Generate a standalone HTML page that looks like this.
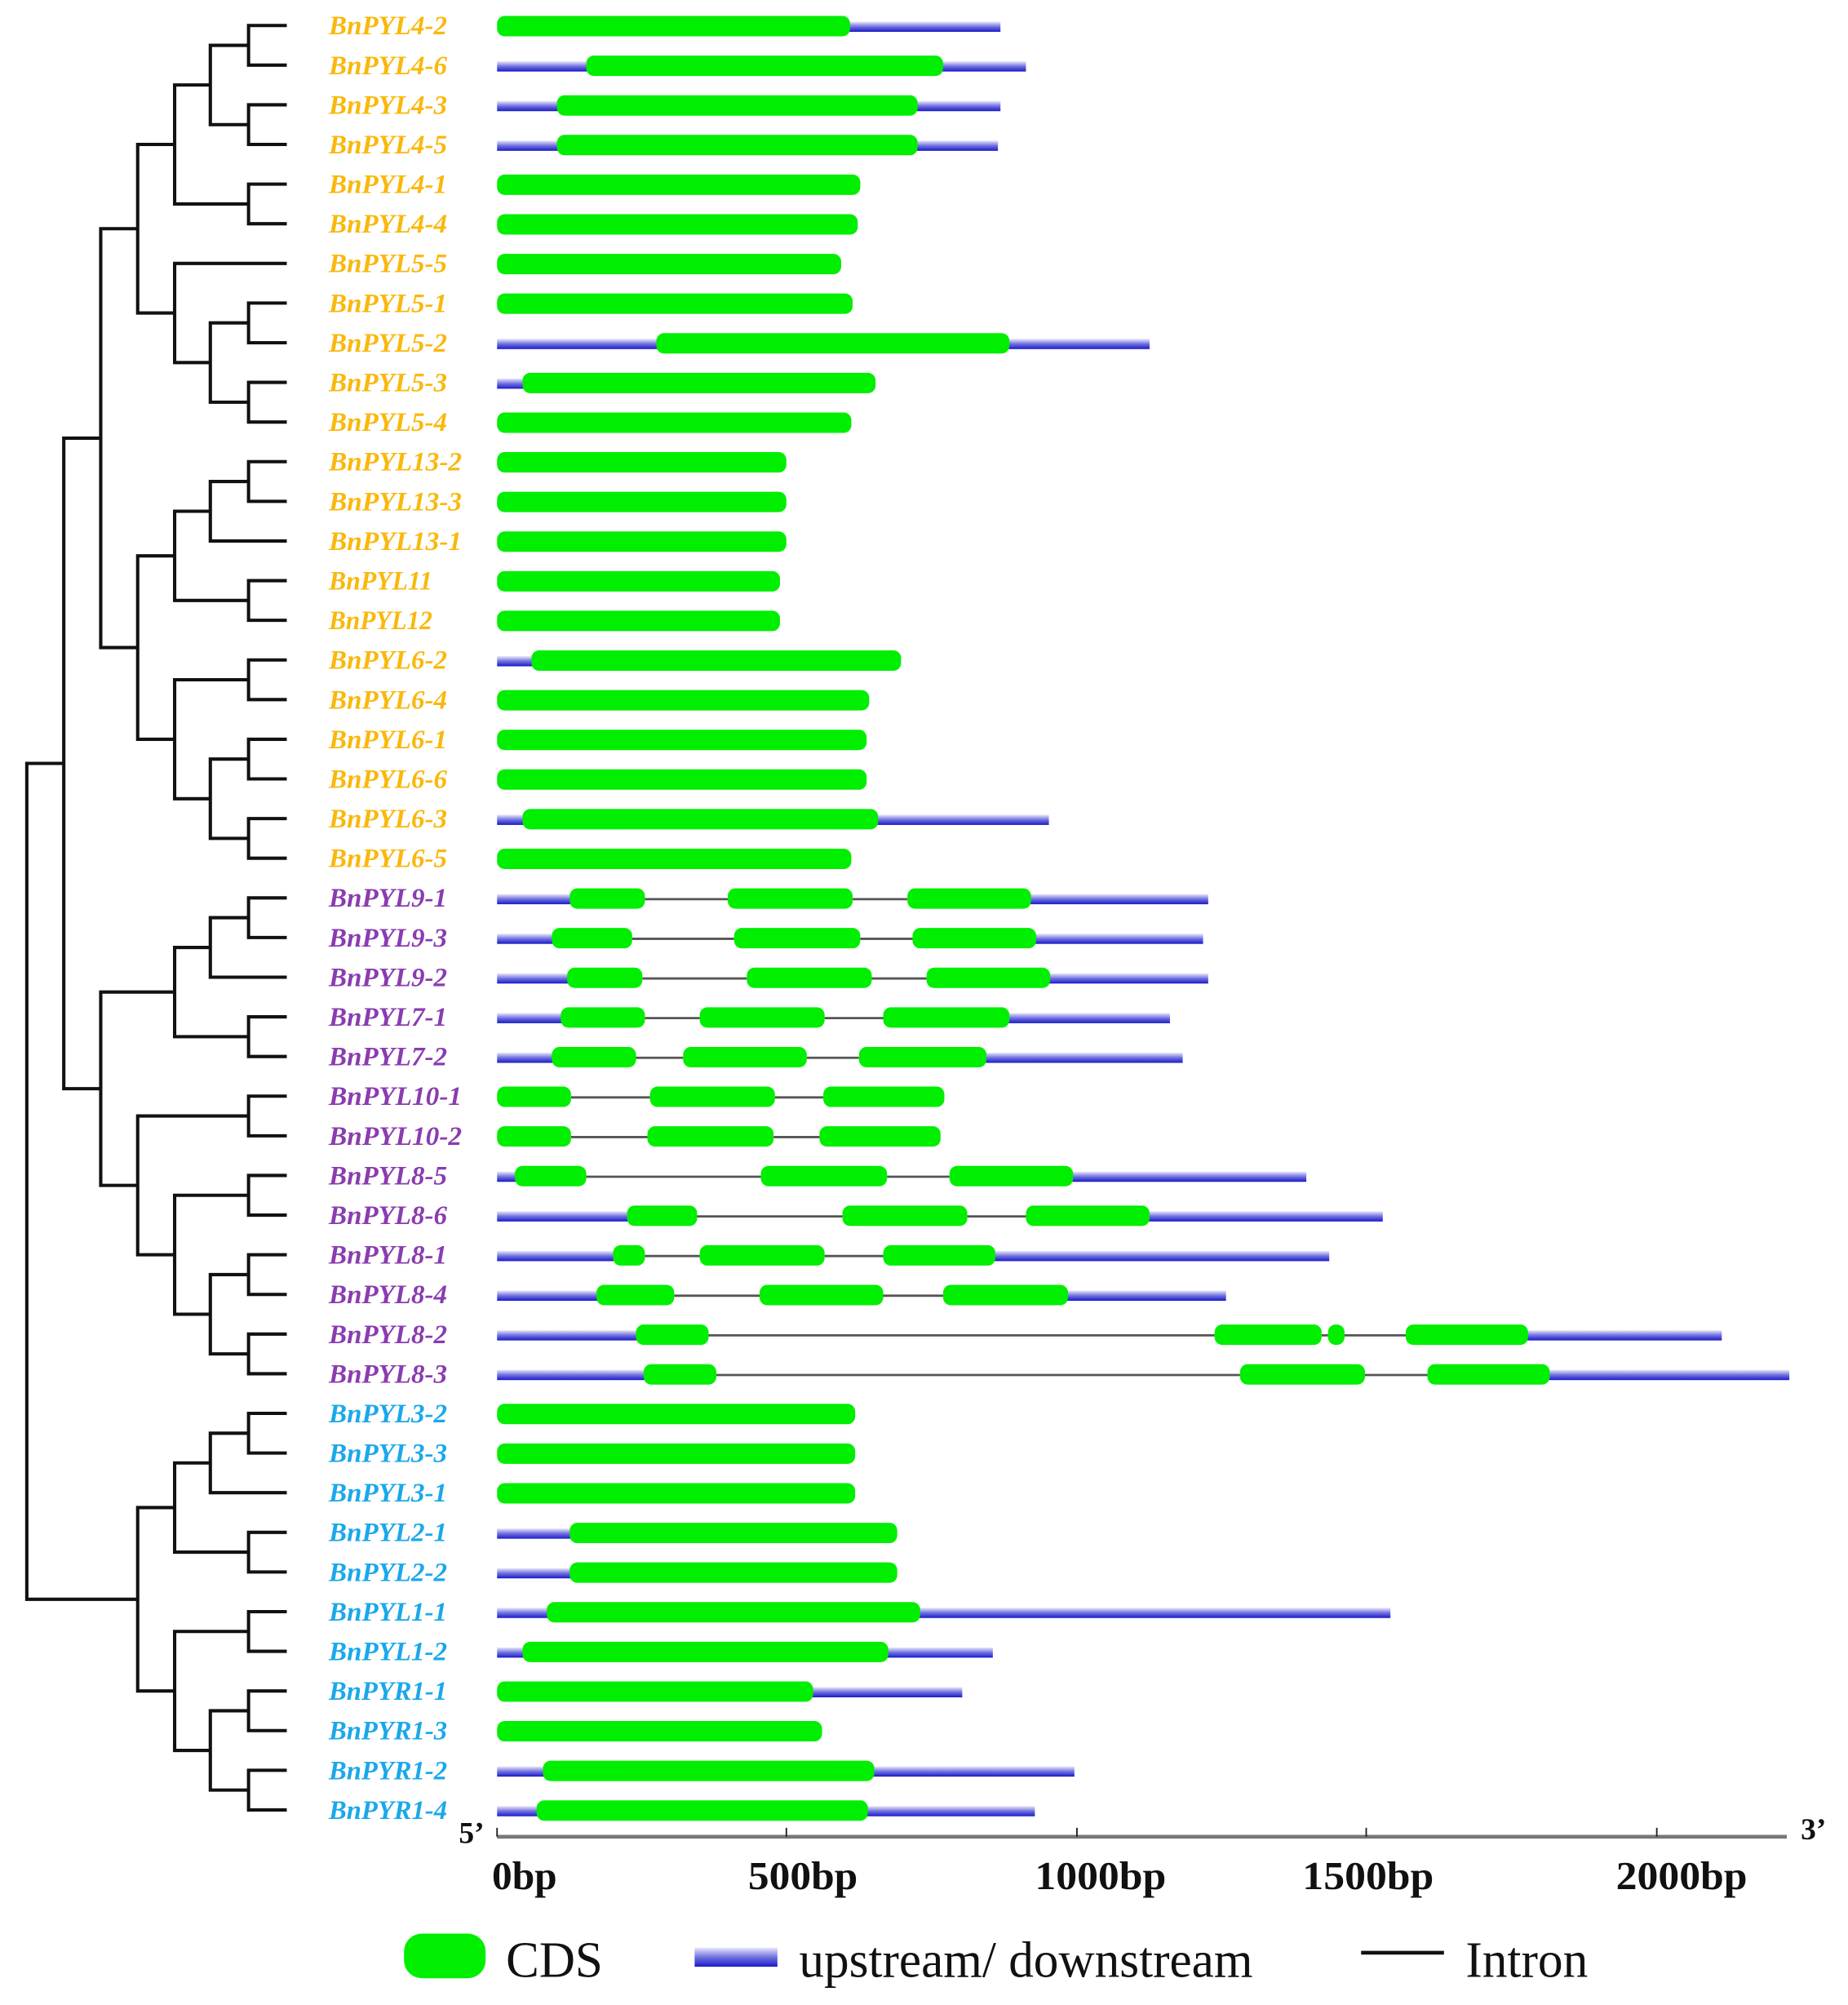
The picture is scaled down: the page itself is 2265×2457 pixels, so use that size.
<!DOCTYPE html>
<html><head><meta charset="utf-8">
<style>html,body{margin:0;padding:0;background:#fff}svg{display:block}</style>
</head><body>
<svg id="s" xmlns="http://www.w3.org/2000/svg" width="2265" height="2457" viewBox="0 0 1450 1573">
<defs>
<linearGradient id="bg" x1="0" y1="0" x2="0" y2="1">
<stop offset="0" stop-color="#e8e8fb"/><stop offset="0.5" stop-color="#7070e0"/><stop offset="1" stop-color="#1a1ac8"/>
</linearGradient>
</defs>
<g id="tree" stroke="#111" stroke-width="2.6" fill="none"></g>
<g id="genes"></g>
<g id="labels" font-family="'Liberation Serif',serif" font-style="italic" font-weight="bold" font-size="21"></g>
<line x1="390" y1="1441" x2="1402" y2="1441" stroke="#777" stroke-width="3"/>
<g stroke="#222" stroke-width="1.2">
<line x1="390" y1="1434" x2="390" y2="1441"/><line x1="617" y1="1434" x2="617" y2="1441"/><line x1="845" y1="1434" x2="845" y2="1441"/><line x1="1072" y1="1434" x2="1072" y2="1441"/><line x1="1300" y1="1434" x2="1300" y2="1441"/>
</g>
<g font-family="'Liberation Serif',serif" font-weight="bold" font-size="31" fill="#111">
<text x="360" y="1446" font-size="24">5’</text>
<text x="1413" y="1443" font-size="24">3’</text>
<text x="386" y="1482" textLength="51" lengthAdjust="spacingAndGlyphs">0bp</text>
<text x="587" y="1482" textLength="86" lengthAdjust="spacingAndGlyphs">500bp</text>
<text x="812" y="1482" textLength="103" lengthAdjust="spacingAndGlyphs">1000bp</text>
<text x="1022" y="1482" textLength="103" lengthAdjust="spacingAndGlyphs">1500bp</text>
<text x="1268" y="1482" textLength="103" lengthAdjust="spacingAndGlyphs">2000bp</text>
</g>
<rect x="317" y="1517" width="64" height="35" rx="14" fill="#00ee00"/>
<rect x="545" y="1528" width="65" height="15" fill="url(#bg)"/>
<line x1="1068" y1="1532" x2="1133" y2="1532" stroke="#111" stroke-width="3"/>
<g font-family="'Liberation Serif',serif" font-size="40" fill="#111">
<text x="397" y="1551" textLength="76" lengthAdjust="spacingAndGlyphs">CDS</text>
<text x="627" y="1551" textLength="356" lengthAdjust="spacingAndGlyphs">upstream/ downstream</text>
<text x="1150" y="1551" textLength="96" lengthAdjust="spacingAndGlyphs">Intron</text>
</g>
</svg>
<script>
var NS="http://www.w3.org/2000/svg";
function el(p,t,a,txt){var e=document.createElementNS(NS,t);for(var k in a)e.setAttribute(k,a[k]);if(txt)e.textContent=txt;p.appendChild(e);return e;}
function Y(i){return 20+31.11*i;}
var O="#f9b80c",P="#8a3cb0",C="#1aa8ea";
var rows=[
["BnPYL4-2",O,390,785,[[390,667]]],
["BnPYL4-6",O,390,805,[[460,740]]],
["BnPYL4-3",O,390,785,[[437,720]]],
["BnPYL4-5",O,390,783,[[437,720]]],
["BnPYL4-1",O,390,675,[[390,675]]],
["BnPYL4-4",O,390,673,[[390,673]]],
["BnPYL5-5",O,390,660,[[390,660]]],
["BnPYL5-1",O,390,669,[[390,669]]],
["BnPYL5-2",O,390,902,[[515,792]]],
["BnPYL5-3",O,390,687,[[410,687]]],
["BnPYL5-4",O,390,668,[[390,668]]],
["BnPYL13-2",O,390,617,[[390,617]]],
["BnPYL13-3",O,390,617,[[390,617]]],
["BnPYL13-1",O,390,617,[[390,617]]],
["BnPYL11",O,390,612,[[390,612]]],
["BnPYL12",O,390,612,[[390,612]]],
["BnPYL6-2",O,390,707,[[417,707]]],
["BnPYL6-4",O,390,682,[[390,682]]],
["BnPYL6-1",O,390,680,[[390,680]]],
["BnPYL6-6",O,390,680,[[390,680]]],
["BnPYL6-3",O,390,823,[[410,689]]],
["BnPYL6-5",O,390,668,[[390,668]]],
["BnPYL9-1",P,390,948,[[447,506],[571,669],[712,809]]],
["BnPYL9-3",P,390,944,[[433,496],[576,675],[716,813]]],
["BnPYL9-2",P,390,948,[[445,504],[586,684],[727,824]]],
["BnPYL7-1",P,390,918,[[440,506],[549,647],[693,792]]],
["BnPYL7-2",P,390,928,[[433,499],[536,633],[674,774]]],
["BnPYL10-1",P,390,741,[[390,448],[510,608],[646,741]]],
["BnPYL10-2",P,390,738,[[390,448],[508,607],[643,738]]],
["BnPYL8-5",P,390,1025,[[404,460],[597,696],[745,842]]],
["BnPYL8-6",P,390,1085,[[492,547],[661,759],[805,902]]],
["BnPYL8-1",P,390,1043,[[481,506],[549,647],[693,781]]],
["BnPYL8-4",P,390,962,[[468,529],[596,693],[740,838]]],
["BnPYL8-2",P,390,1351,[[499,556],[953,1037],[1042,1055],[1103,1199]]],
["BnPYL8-3",P,390,1404,[[505,562],[973,1071],[1120,1216]]],
["BnPYL3-2",C,390,671,[[390,671]]],
["BnPYL3-3",C,390,671,[[390,671]]],
["BnPYL3-1",C,390,671,[[390,671]]],
["BnPYL2-1",C,390,704,[[447,704]]],
["BnPYL2-2",C,390,704,[[447,704]]],
["BnPYL1-1",C,390,1091,[[429,722]]],
["BnPYL1-2",C,390,779,[[410,697]]],
["BnPYR1-1",C,390,755,[[390,638]]],
["BnPYR1-3",C,390,645,[[390,645]]],
["BnPYR1-2",C,390,843,[[426,686]]],
["BnPYR1-4",C,390,812,[[421,681]]]
];
var G=document.getElementById("genes"),L=document.getElementById("labels");
rows.forEach(function(r,i){
 var y=Y(i),g=r[4];
 el(L,"text",{x:258,y:y+7,fill:r[1],textLength:(r[0].length*11.6).toFixed(1),lengthAdjust:"spacingAndGlyphs"},r[0]);
 var f=g[0][0],l=g[g.length-1][1];
 if(f>r[2]+1)el(G,"rect",{x:r[2],y:y-3,width:f-r[2]+4,height:8,fill:"url(#bg)"});
 if(r[3]>l+1)el(G,"rect",{x:l-4,y:y-3,width:r[3]-l+4,height:8,fill:"url(#bg)"});
 for(var k=0;k<g.length-1;k++)el(G,"line",{x1:g[k][1],y1:y+1,x2:g[k+1][0],y2:y+1,stroke:"#555","stroke-width":1.8});
 g.forEach(function(s){var w=s[1]-s[0];el(G,"rect",{x:s[0],y:y-7.5,width:w,height:16,rx:Math.min(6,w/2),fill:"#00ee00"});});
});
var T=document.getElementById("tree");
function leaf(i){return {y:Y(i),x:225};}
function node(x,a,b){
 el(T,"path",{d:"M"+a.x+","+a.y+"H"+x+"V"+b.y+"H"+b.x});
 return {x:x,y:(a.y+b.y)/2};
}
function pair(i,j){return node(195,leaf(i),leaf(j));}
var a=node(165,pair(0,1),pair(2,3));
var b=node(137,a,pair(4,5));
var c=node(165,pair(7,8),pair(9,10));
var d=node(137,leaf(6),c);
var top1=node(108,b,d);
var e=node(165,pair(11,12),leaf(13));
var f=node(137,e,pair(14,15));
var h=node(165,pair(18,19),pair(20,21));
var k=node(137,pair(16,17),h);
var top2=node(108,f,k);
var orange=node(79,top1,top2);
var p1=node(165,pair(22,23),leaf(24));
var p2=node(137,p1,pair(25,26));
var p3=node(165,pair(31,32),pair(33,34));
var p4=node(137,pair(29,30),p3);
var p5=node(108,pair(27,28),p4);
var purple=node(79,p2,p5);
var op=node(50,orange,purple);
var c1=node(165,pair(35,36),leaf(37));
var c2=node(137,c1,pair(38,39));
var c3=node(165,pair(42,43),pair(44,45));
var c4=node(137,pair(40,41),c3);
var cyan=node(108,c2,c4);
node(21,op,cyan);
</script>
</body></html>
